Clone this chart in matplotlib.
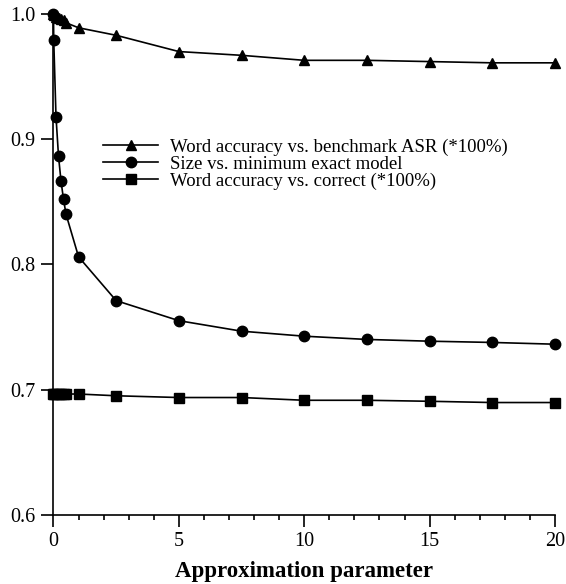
import matplotlib
matplotlib.use("Agg")
import matplotlib.pyplot as plt
from matplotlib.ticker import MultipleLocator, FormatStrFormatter

plt.rcParams['font.family'] = ['Liberation Serif', 'DejaVu Serif']

x = [0, 0.01, 0.1, 0.2, 0.3, 0.4, 0.5, 1, 2.5, 5, 7.5, 10, 12.5, 15, 17.5, 20]
acc_benchmark = [1.0, 0.999, 0.998, 0.997, 0.996, 0.995, 0.993, 0.989, 0.983, 0.970,
                 0.967, 0.963, 0.963, 0.962, 0.961, 0.961]
size_vs_min = [1.0, 0.979, 0.918, 0.8865, 0.8665, 0.852, 0.840, 0.806, 0.771, 0.755,
               0.7466, 0.7426, 0.740, 0.7386, 0.7376, 0.7362]
acc_correct = [0.6964, 0.6964, 0.6964, 0.6964, 0.6964, 0.6964, 0.6964, 0.6964, 0.695, 0.6936,
               0.6936, 0.6914, 0.6914, 0.6906, 0.6896, 0.6896]

labels = ["Word accuracy vs. benchmark ASR (*100%)",
          "Size vs. minimum exact model",
          "Word accuracy vs. correct (*100%)"]

fig = plt.figure(figsize=(5.66, 5.84), dpi=100)
ax = fig.add_axes([0.0945, 0.1187, 0.8861, 0.8573])

kw = dict(color='black', lw=1.2, clip_on=False)
ax.plot(x, acc_benchmark, marker='^', ms=7.8, label=labels[0], **kw)
ax.plot(x, size_vs_min, marker='o', ms=7.5, label=labels[1], **kw)
ax.plot(x, acc_correct, marker='s', ms=7.2, label=labels[2], **kw)

ax.set_xlim(0, 20)
ax.set_ylim(0.6, 1.0)
ax.xaxis.set_major_locator(MultipleLocator(5))
ax.xaxis.set_minor_locator(MultipleLocator(1))
ax.yaxis.set_major_locator(MultipleLocator(0.1))
ax.yaxis.set_major_formatter(FormatStrFormatter('%.1f'))

for s in ['top', 'right']:
    ax.spines[s].set_visible(False)
for s in ['left', 'bottom']:
    ax.spines[s].set_linewidth(1.2)

ax.tick_params(axis='both', which='major', direction='out', length=8.3, width=1.2,
               labelsize=14.5)
ax.tick_params(axis='y', which='major', pad=5)
ax.tick_params(axis='x', which='major', pad=4.5)
ax.tick_params(axis='x', which='minor', direction='out', length=3.6, width=1.2)

ax.set_xlabel("Approximation parameter", fontsize=16.5, fontweight='bold', labelpad=7)

ax.legend(loc='center left', bbox_to_anchor=(103 / 566, 1 - 164 / 584),
          bbox_transform=fig.transFigure, frameon=False, fontsize=13.5,
          handlelength=2.95, handletextpad=0.65, labelspacing=-0.02,
          borderaxespad=0, borderpad=0)

fig.savefig("out.png", dpi=100)
